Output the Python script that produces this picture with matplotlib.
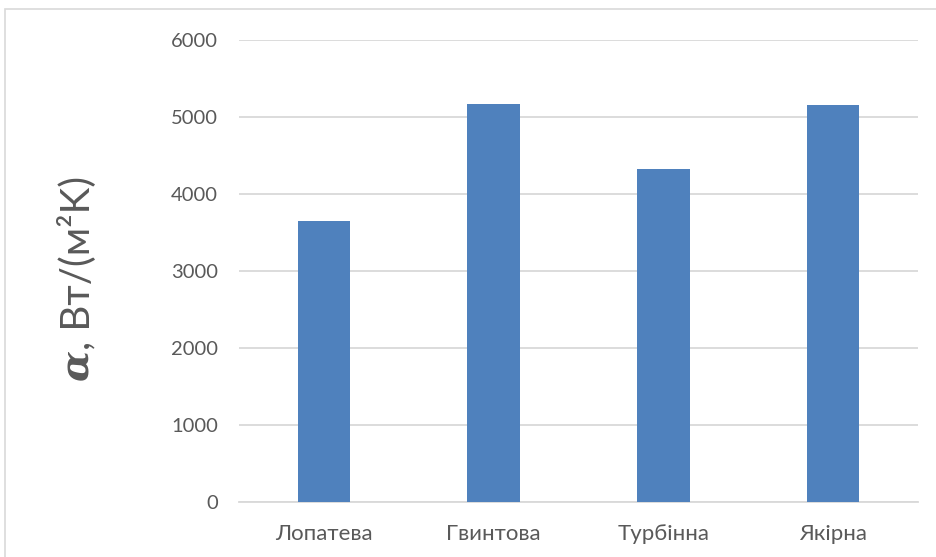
import matplotlib.pyplot as plt
from matplotlib.patches import Rectangle

# Коефіцієнт тепловіддачі для різних типів мішалок
mishalky = ["Лопатева", "Гвинтова", "Турбінна", "Якірна"]
alfa = [3650, 5167, 4324, 5162]
yticks = [0, 1000, 2000, 3000, 4000, 5000, 6000]

kolir_stovp = "#4F81BD"
kolir_tekst = "#595959"
kolir_sitka = "#D9D9D9"

plt.rcParams["font.family"] = ["Lato", "DejaVu Sans"]

fig = plt.figure(figsize=(9.36, 5.57), dpi=100)
W, H = 936, 557

# рамка області діаграми
fig.patches.append(Rectangle((5 / W, -0.1), 1.1, 1.1 - 9 / H,
                             transform=fig.transFigure, fill=False,
                             edgecolor=kolir_sitka, linewidth=1.2))

ax = fig.add_axes([239 / W, 55 / H, (918 - 239) / W, (502 - 40) / H])
x = range(len(mishalky))
ax.bar(x, alfa, width=0.31, color=kolir_stovp, zorder=3)

ax.set_xlim(-0.5, len(mishalky) - 0.5)
ax.set_ylim(0, 6000)
ax.set_yticks(yticks)
ax.set_xticks(list(x))
ax.set_xticklabels(mishalky)
ax.yaxis.grid(True, color=kolir_sitka, linewidth=1.3, zorder=0)
ax.set_axisbelow(True)
for s in ["top", "right", "left"]:
    ax.spines[s].set_visible(False)
ax.spines["bottom"].set_color(kolir_sitka)
ax.spines["bottom"].set_linewidth(1.3)
ax.tick_params(axis="both", length=0, colors=kolir_tekst)
ax.tick_params(axis="y", labelsize=14.5, pad=15)
ax.tick_params(axis="x", labelsize=16, pad=16)

# підпис осі Y: жирна курсивна альфа + одиниці виміру
odynytsi = fig.text(77 / W, 1 - 350 / H, ", Вт/(м²K)", rotation=90,
                    ha="center", va="bottom", fontsize=29, color=kolir_tekst)
ax.annotate("α", xy=(0.5, 0), xycoords=odynytsi, rotation=90,
            ha="center", va="top", fontsize=29, color=kolir_tekst,
            family="DejaVu Serif", fontweight="bold", fontstyle="italic")

fig.savefig("out.png", dpi=100)
